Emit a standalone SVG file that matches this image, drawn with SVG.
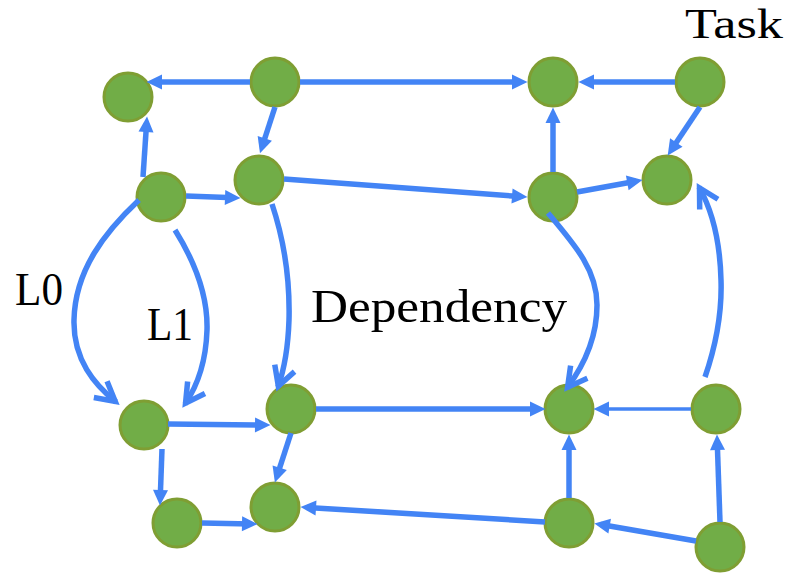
<svg xmlns="http://www.w3.org/2000/svg" width="788" height="573" viewBox="0 0 788 573">
  <style>
    .node { fill: #71AD47; stroke: #7F9E33; stroke-width: 3; }
    .edge { fill: none; stroke: #4384F5; stroke-width: 5.5; }
    .thin { stroke-width: 3.5; }
    .curve { marker-end: url(#chevron); }
    .straight { marker-end: url(#tri); }
    .label { font-family: "Liberation Serif", "Times New Roman", serif; fill: #000; }
  </style>
  <defs>
    <!-- filled head for straight links -->
    <marker id="tri" markerUnits="userSpaceOnUse" markerWidth="17" markerHeight="16" refX="9" refY="7.5" orient="auto" overflow="visible">
      <path d="M0,0 L15.5,7.5 L0,15 z" fill="#4384F5"/>
    </marker>
    <!-- open head for curved links -->
    <marker id="chevron" markerUnits="userSpaceOnUse" markerWidth="26" markerHeight="22" refX="20" refY="10.5" orient="auto" overflow="visible">
      <path d="M0,0 L19,10.5 L0,21" fill="none" stroke="#4384F5" stroke-width="5.5"/>
    </marker>
  </defs>

  <rect width="788" height="573" fill="#fff"/>

  <g id="nodes">
    <g id="nA"><circle class="node" cx="128" cy="97" r="24"/></g>
    <g id="nB"><circle class="node" cx="275" cy="82" r="24"/></g>
    <g id="nC"><circle class="node" cx="161" cy="197" r="24"/></g>
    <g id="nD"><circle class="node" cx="259" cy="180" r="24"/></g>
    <g id="nE"><circle class="node" cx="553" cy="82" r="24"/></g>
    <g id="nF"><circle class="node" cx="700" cy="82" r="24"/></g>
    <g id="nG"><circle class="node" cx="553" cy="197" r="24"/></g>
    <g id="nH"><circle class="node" cx="667" cy="180" r="24"/></g>
    <g id="nI"><circle class="node" cx="144" cy="425" r="24"/></g>
    <g id="nJ"><circle class="node" cx="291" cy="409" r="24"/></g>
    <g id="nK"><circle class="node" cx="177" cy="523" r="24"/></g>
    <g id="nL"><circle class="node" cx="275" cy="507" r="24"/></g>
    <g id="nM"><circle class="node" cx="569" cy="409" r="24"/></g>
    <g id="nN"><circle class="node" cx="716" cy="409" r="24"/></g>
    <g id="nO"><circle class="node" cx="569" cy="523" r="24"/></g>
    <g id="nP"><circle class="node" cx="720" cy="547" r="24"/></g>
  </g>

  <g id="connectors">
    <!-- straight links -->
    <line class="edge straight" x1="250" y1="82" x2="153" y2="82"/>
    <line class="edge straight" x1="300" y1="82" x2="521" y2="82"/>
    <line class="edge straight" x1="275" y1="107" x2="262" y2="147"/>
    <line class="edge straight" x1="143" y1="177" x2="146.6" y2="123"/>
    <line class="edge straight" x1="186" y1="196" x2="234" y2="197.8"/>
    <line class="edge straight" x1="284" y1="179" x2="521" y2="196.6"/>
    <line class="edge straight" x1="553" y1="172" x2="553" y2="114"/>
    <line class="edge straight" x1="675" y1="82" x2="585" y2="82"/>
    <line class="edge straight" x1="700" y1="107" x2="671.3" y2="150"/>
    <line class="edge straight" x1="577" y1="192" x2="636.1" y2="181.2"/>
    <line class="edge straight" x1="168" y1="424" x2="264" y2="425"/>
    <line class="edge straight" x1="316" y1="409" x2="539" y2="409"/>
    <line class="edge straight thin" x1="691" y1="409" x2="600" y2="409"/>
    <line class="edge straight" x1="162" y1="449" x2="160.2" y2="499"/>
    <line class="edge straight" x1="202" y1="523" x2="251" y2="523.9"/>
    <line class="edge straight" x1="291" y1="433" x2="276.9" y2="476.3"/>
    <line class="edge straight" x1="545" y1="522" x2="307" y2="507.4"/>
    <line class="edge straight" x1="569" y1="498" x2="569" y2="441"/>
    <line class="edge straight" x1="696" y1="541" x2="600.8" y2="524.5"/>
    <line class="edge straight" x1="720" y1="522" x2="717.2" y2="441"/>

    <!-- curved links -->
    <path class="edge curve" d="M139,200 C105,232 75,270 74,320 C73,360 95,385 116,402"/>
    <path class="edge curve" d="M175,230 C195,262 208,295 207,330 C206,360 198,385 185,404"/>
    <path class="edge curve" d="M272,204 C284,240 290,280 289,320 C288,350 284,370 278,387"/>
    <path class="edge curve" d="M548,213 C575,245 597,270 597,305 C597,340 582,368 567,388"/>
    <path class="edge curve" d="M705,377 C716,345 722,310 721,280 C720,240 712,210 699,187"/>
  </g>

  <g id="labels">
    <text class="label" x="685" y="38" font-size="43" textLength="98" lengthAdjust="spacingAndGlyphs">Task</text>
    <text class="label" x="311" y="322" font-size="47" textLength="256" lengthAdjust="spacingAndGlyphs">Dependency</text>
    <text class="label" x="15" y="305" font-size="47" textLength="48" lengthAdjust="spacingAndGlyphs">L0</text>
    <text class="label" x="147" y="340" font-size="47" textLength="46" lengthAdjust="spacingAndGlyphs">L1</text>
  </g>
</svg>
